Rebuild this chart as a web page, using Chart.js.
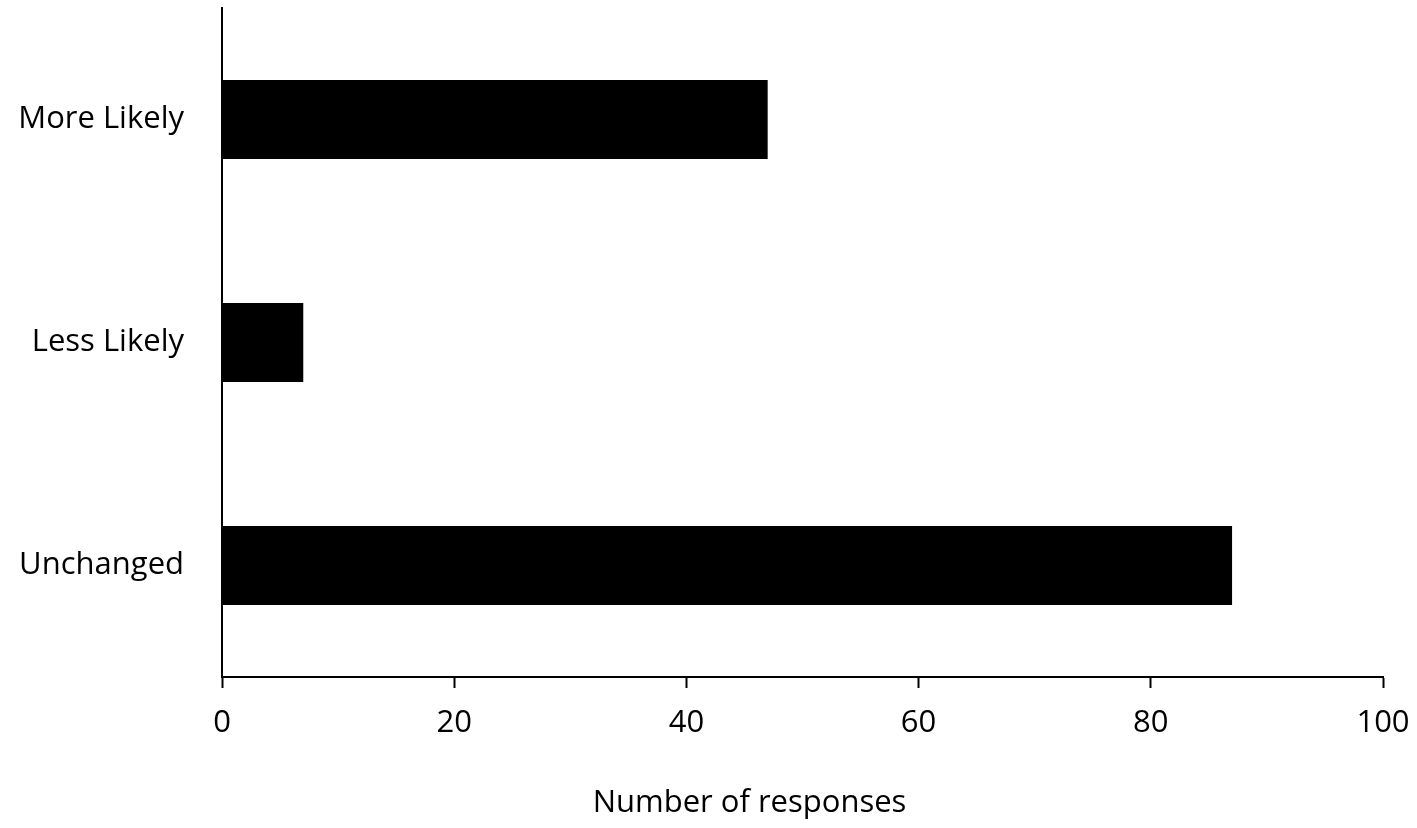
<!DOCTYPE html>
<html>
<head>
<meta charset="utf-8">
<script src="https://cdn.jsdelivr.net/npm/chart.js@4/dist/chart.umd.min.js"></script>
<style>
  html, body { margin: 0; padding: 0; background: #fff; }
  #wrap { width: 1417px; height: 828px; }
</style>
</head>
<body>
<div id="wrap"><canvas id="responseChart" width="1417" height="828"></canvas></div>
<script>
// Categories and counts
const categories = ["More Likely", "Less Likely", "Unchanged"];
const responses = [47, 7, 87];
const xTicks = [0, 20, 40, 60, 80, 100];
const xTitle = "Number of responses";

const fontFamily = "'Open Sans', 'Noto Sans', sans-serif";

// axis title sits a bit left of the axis centre in the original, so draw it by hand
const xTitlePlugin = {
  id: "xTitle",
  afterDraw(chart) {
    const c = chart.ctx;
    const area = chart.chartArea;
    c.save();
    c.font = "31px " + fontFamily;
    c.fillStyle = "#000000";
    c.textAlign = "center";
    c.textBaseline = "middle";
    c.fillText(xTitle, (area.left + area.right) / 2 - 53, chart.height - 25);
    c.restore();
  },
};

document.addEventListener("DOMContentLoaded", function () {
  const ctx = document.getElementById("responseChart").getContext("2d");
  new Chart(ctx, {
    type: "bar",
    data: {
      labels: categories,
      datasets: [
        {
          label: xTitle,
          data: responses,
          backgroundColor: "#000000",
          borderWidth: 0,
          categoryPercentage: 1,
          barPercentage: 0.354,
        },
      ],
    },
    plugins: [xTitlePlugin],
    options: {
      indexAxis: "y",
      responsive: false,
      animation: false,
      layout: { padding: { top: 8, right: 34, left: 0, bottom: 0 } },
      plugins: {
        legend: { display: false },
        tooltip: { enabled: false },
      },
      scales: {
        x: {
          min: xTicks[0],
          max: xTicks[xTicks.length - 1],
          afterBuildTicks: (axis) => { axis.ticks = xTicks.map((v) => ({ value: v })); },
          afterFit: (axis) => {
            axis.height = 151;
            axis.paddingLeft = 0;
            axis.paddingRight = 0;
          },
          grid: {
            display: true,
            drawOnChartArea: false,
            drawTicks: true,
            tickLength: 11,
            tickWidth: 2,
            color: "#000000",
          },
          border: { display: true, color: "#000000", width: 2 },
          ticks: {
            color: "#000000",
            padding: 17,
            font: { family: fontFamily, size: 31 },
          },
          title: { display: false },
        },
        y: {
          afterFit: (axis) => {
            axis.width = 222;
            axis.paddingTop = 0;
            axis.paddingBottom = 0;
          },
          grid: { display: false },
          border: { display: true, color: "#000000", width: 2 },
          ticks: {
            color: "#000000",
            padding: 30,
            font: { family: fontFamily, size: 31 },
          },
        },
      },
    },
  });
});
</script>
</body>
</html>
